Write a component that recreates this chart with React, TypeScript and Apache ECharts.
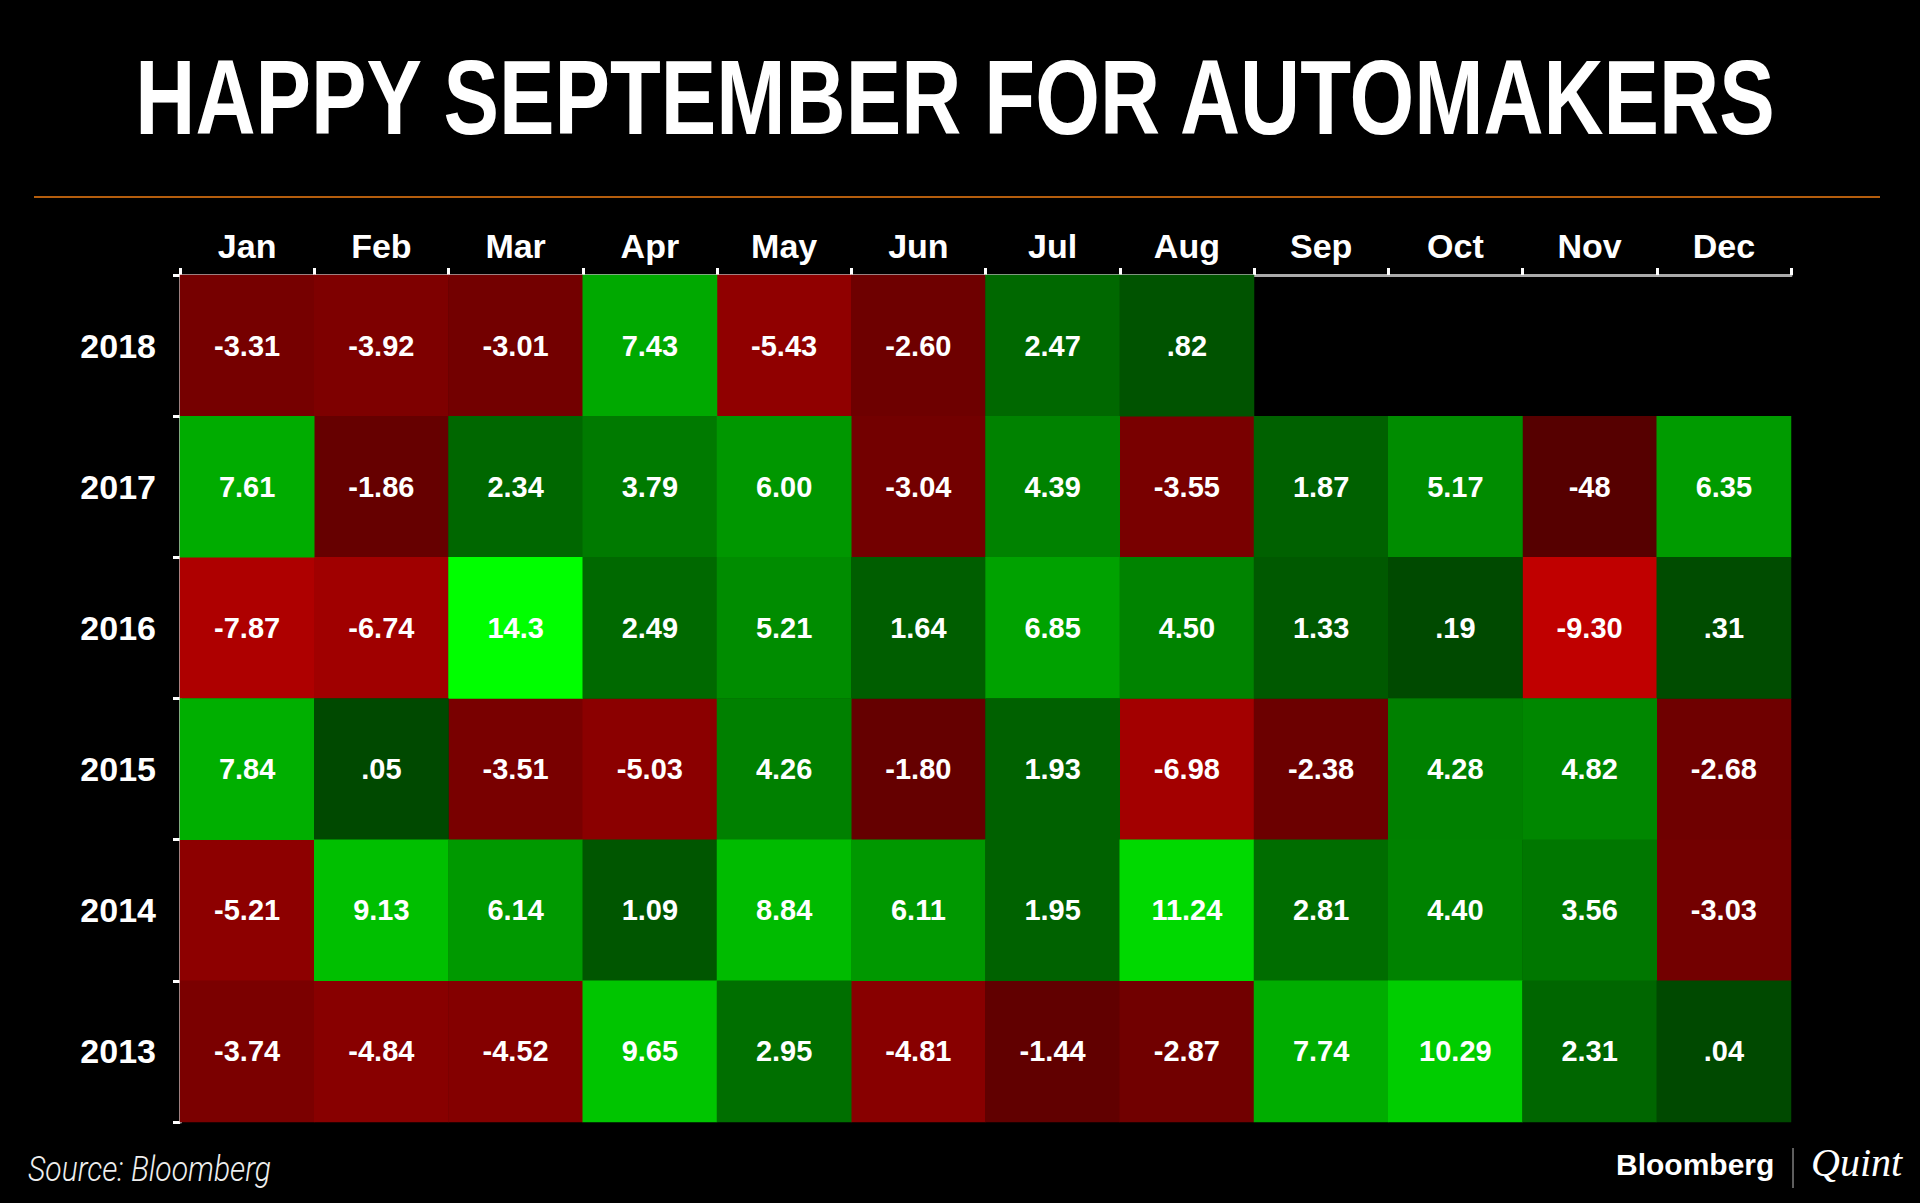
import React, { useEffect, useRef } from "react";
import * as echarts from "echarts";

const months = ["Jan", "Feb", "Mar", "Apr", "May", "Jun", "Jul", "Aug", "Sep", "Oct", "Nov", "Dec"];
const years = ["2018", "2017", "2016", "2015", "2014", "2013"];

const v2018 = [-3.31, -3.92, -3.01, 7.43, -5.43, -2.6, 2.47, 0.82, null, null, null, null];
const v2017 = [7.61, -1.86, 2.34, 3.79, 6.0, -3.04, 4.39, -3.55, 1.87, 5.17, -0.48, 6.35];
const v2016 = [-7.87, -6.74, 14.3, 2.49, 5.21, 1.64, 6.85, 4.5, 1.33, 0.19, -9.3, 0.31];
const v2015 = [7.84, 0.05, -3.51, -5.03, 4.26, -1.8, 1.93, -6.98, -2.38, 4.28, 4.82, -2.68];
const v2014 = [-5.21, 9.13, 6.14, 1.09, 8.84, 6.11, 1.95, 11.24, 2.81, 4.4, 3.56, -3.03];
const v2013 = [-3.74, -4.84, -4.52, 9.65, 2.95, -4.81, -1.44, -2.87, 7.74, 10.29, 2.31, 0.04];

const l2018 = ["-3.31", "-3.92", "-3.01", "7.43", "-5.43", "-2.60", "2.47", ".82", "", "", "", ""];
const l2017 = ["7.61", "-1.86", "2.34", "3.79", "6.00", "-3.04", "4.39", "-3.55", "1.87", "5.17", "-48", "6.35"];
const l2016 = ["-7.87", "-6.74", "14.3", "2.49", "5.21", "1.64", "6.85", "4.50", "1.33", ".19", "-9.30", ".31"];
const l2015 = ["7.84", ".05", "-3.51", "-5.03", "4.26", "-1.80", "1.93", "-6.98", "-2.38", "4.28", "4.82", "-2.68"];
const l2014 = ["-5.21", "9.13", "6.14", "1.09", "8.84", "6.11", "1.95", "11.24", "2.81", "4.40", "3.56", "-3.03"];
const l2013 = ["-3.74", "-4.84", "-4.52", "9.65", "2.95", "-4.81", "-1.44", "-2.87", "7.74", "10.29", "2.31", ".04"];

const values = [v2018, v2017, v2016, v2015, v2014, v2013];
const labels = [l2018, l2017, l2016, l2015, l2014, l2013];

const SANS = '"Liberation Sans", Arial, Helvetica, sans-serif';

export default function App() {
  const ref = useRef<HTMLDivElement>(null);
  useEffect(() => {
    if (!ref.current) return;
    const chart = echarts.init(ref.current, null, { renderer: "svg" });

    const neg: any[] = [];
    const pos: any[] = [];
    values.forEach((row, yi) => {
      row.forEach((v, xi) => {
        if (v === null || v === undefined) return;
        if (v < 0) neg.push([xi, yi, v]);
        else pos.push([xi, yi, v]);
      });
    });

    const cellLabel = {
      show: true,
      color: "#ffffff",
      fontSize: 29,
      fontWeight: "bold",
      fontFamily: SANS,
      formatter: (p: any) => labels[p.value[1]][p.value[0]],
    };

    chart.setOption({
      animation: false,
      backgroundColor: "#000000",
      grid: { left: 180, top: 275, right: 129, bottom: 81 },
      xAxis: {
        type: "category",
        position: "top",
        data: months,
        axisLine: { show: true, lineStyle: { color: "#aaaaaa", width: 3 } },
        axisTick: { show: true, interval: 0, length: 7, lineStyle: { color: "#ffffff", width: 3 } },
        axisLabel: { color: "#ffffff", fontSize: 34, fontWeight: "bold", fontFamily: SANS, margin: 12, interval: 0 },
        splitLine: { show: false },
        splitArea: { show: false },
      },
      yAxis: {
        type: "category",
        data: years,
        inverse: true,
        axisLine: { show: true, lineStyle: { color: "#aaaaaa", width: 3 } },
        axisTick: { show: true, interval: 0, length: 7, lineStyle: { color: "#ffffff", width: 3 } },
        axisLabel: { color: "#ffffff", fontSize: 34, fontWeight: "bold", fontFamily: SANS, margin: 24, interval: 0 },
        splitLine: { show: false },
        splitArea: { show: false },
      },
      visualMap: [
        {
          show: false,
          type: "continuous",
          seriesIndex: 0,
          dimension: 2,
          min: -9.3,
          max: 0,
          inRange: { color: ["#c00000", "#860000", "#500000"] },
        },
        {
          show: false,
          type: "continuous",
          seriesIndex: 1,
          dimension: 2,
          min: 0,
          max: 14.3,
          inRange: { color: ["#004800", "#00a600", "#00ff00"] },
        },
      ],
      series: [
        { type: "heatmap", data: neg, label: cellLabel, emphasis: { disabled: true }, itemStyle: { borderWidth: 0 } },
        { type: "heatmap", data: pos, label: cellLabel, emphasis: { disabled: true }, itemStyle: { borderWidth: 0 } },
      ],
      graphic: [
        {
          type: "text",
          x: 955,
          y: 97,
          scaleX: 0.785,
          style: {
            text: "HAPPY SEPTEMBER FOR AUTOMAKERS",
            fill: "#ffffff",
            font: `bold 106px ${SANS}`,
            textAlign: "center",
            textVerticalAlign: "middle",
          },
        },
        {
          type: "line",
          shape: { x1: 34, y1: 197, x2: 1880, y2: 197 },
          style: { stroke: "#f07d12", lineWidth: 1.5 },
        },
        {
          type: "text",
          x: 28,
          y: 1169,
          scaleX: 0.86,
          style: {
            text: "Source: Bloomberg",
            fill: "#eeeeee",
            font: `italic 300 35px Roboto, ${SANS}`,
            textAlign: "left",
            textVerticalAlign: "middle",
          },
        },
        {
          type: "text",
          x: 1616,
          y: 1164,
          style: {
            text: "Bloomberg",
            fill: "#ffffff",
            font: `bold 30px ${SANS}`,
            textAlign: "left",
            textVerticalAlign: "middle",
          },
        },
        {
          type: "line",
          shape: { x1: 1793, y1: 1148, x2: 1793, y2: 1188 },
          style: { stroke: "#bbbbbb", lineWidth: 1 },
        },
        {
          type: "text",
          x: 1811,
          y: 1162,
          style: {
            text: "Quint",
            fill: "#ffffff",
            font: `italic 40px "Liberation Serif", "DejaVu Serif", serif`,
            textAlign: "left",
            textVerticalAlign: "middle",
          },
        },
      ],
    });
    return () => chart.dispose();
  }, []);
  return (
    <div
      ref={ref}
      style={{ position: "fixed", left: 0, top: 0, width: 1920, height: 1203, background: "#000" }}
    />
  );
}
